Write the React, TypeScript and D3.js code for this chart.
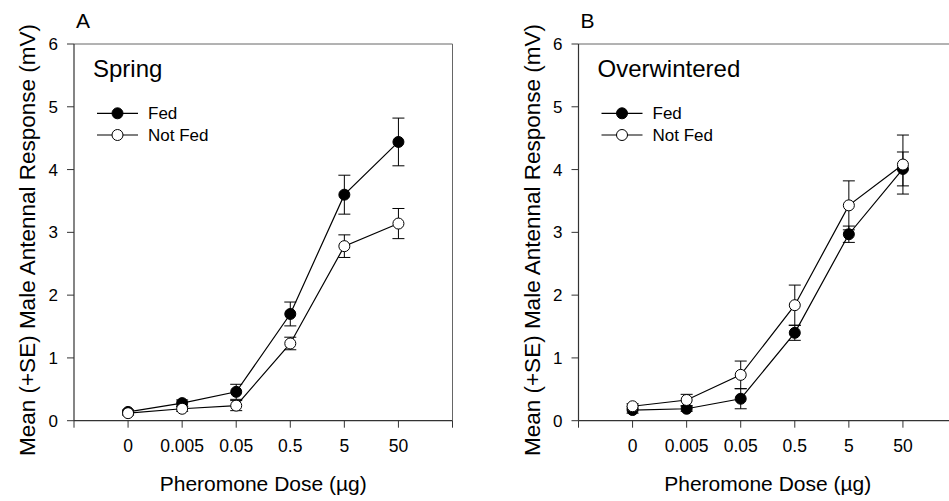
import React from "react";
import * as d3 from "d3";

const doses = ["0", "0.005", "0.05", "0.5", "5", "50"];
const yTicks = [0, 1, 2, 3, 4, 5, 6];

const springFed = [0.14, 0.28, 0.46, 1.7, 3.6, 4.44];
const springFedSE = [0.03, 0.05, 0.12, 0.19, 0.31, 0.38];
const springNotFed = [0.12, 0.19, 0.24, 1.23, 2.78, 3.14];
const springNotFedSE = [0.03, 0.04, 0.08, 0.1, 0.18, 0.24];

const winterFed = [0.17, 0.19, 0.35, 1.4, 2.97, 4.01];
const winterFedSE = [0.05, 0.04, 0.16, 0.12, 0.13, 0.27];
const winterNotFed = [0.23, 0.33, 0.73, 1.84, 3.43, 4.08];
const winterNotFedSE = [0.04, 0.09, 0.22, 0.32, 0.39, 0.47];

const font = "'Liberation Sans', Arial, sans-serif";

const panels = [
  {
    letter: "A",
    title: "Spring",
    left: 74,
    right: 452.5,
    fed: springFed,
    fedSE: springFedSE,
    notFed: springNotFed,
    notFedSE: springNotFedSE,
  },
  {
    letter: "B",
    title: "Overwintered",
    left: 578.5,
    right: 957,
    fed: winterFed,
    fedSE: winterFedSE,
    notFed: winterNotFed,
    notFedSE: winterNotFedSE,
  },
];

const top = 44;
const bottom = 420.7;

const Panel = ({ p }) => {
  const x = d3.scaleLinear().domain([-1, 6]).range([p.left, p.right]);
  const y = d3.scaleLinear().domain([0, 6]).range([bottom, top]);
  const line = d3
    .line<number>()
    .x((d, i) => x(i))
    .y((d) => y(d));
  const cx = (p.left + p.right) / 2;

  const series = [
    { vals: p.fed, se: p.fedSE, fill: "#000" },
    { vals: p.notFed, se: p.notFedSE, fill: "#fff" },
  ];

  return (
    <g fontFamily={font}>
      <text x={p.left + 2} y={28} fontSize={21}>
        {p.letter}
      </text>
      {/* frame */}
      <line x1={p.left} x2={p.right} y1={top} y2={top} stroke="#666" strokeWidth={1} />
      <line x1={p.right} x2={p.right} y1={top} y2={bottom} stroke="#666" strokeWidth={1} />
      {/* y axis */}
      <line x1={p.left} x2={p.left} y1={top} y2={bottom} stroke="#333" strokeWidth={1.2} />
      {yTicks.map((t) => (
        <g key={t}>
          <line x1={p.left - 7} x2={p.left} y1={y(t)} y2={y(t)} stroke="#333" />
          <text x={p.left - 16} y={y(t)} dy="0.36em" textAnchor="end" fontSize={17}>
            {t}
          </text>
        </g>
      ))}
      {/* x axis */}
      <line x1={p.left} x2={p.right} y1={bottom} y2={bottom} stroke="#333" strokeWidth={1.2} />
      {[-1, ...doses.map((d, i) => i), 6].map((t) => (
        <line key={t} x1={x(t)} x2={x(t)} y1={bottom} y2={bottom + 7} stroke="#333" />
      ))}
      {doses.map((d, i) => (
        <text key={d} x={x(i)} y={451.5} textAnchor="middle" fontSize={17.5}>
          {d}
        </text>
      ))}
      <text x={cx} y={491} textAnchor="middle" fontSize={21}>
        Pheromone Dose (µg)
      </text>
      <text
        transform={`translate(${p.left - 39},${240}) rotate(-90)`}
        textAnchor="middle"
        fontSize={22.5}
      >
        Mean (+SE) Male Antennal Response (mV)
      </text>
      <text x={p.left + 19} y={76.5} fontSize={24}>
        {p.title}
      </text>
      {/* legend */}
      {series.map((s, k) => {
        const ly = 113.3 + k * 21.7;
        return (
          <g key={k}>
            <line x1={p.left + 23} x2={p.left + 64} y1={ly} y2={ly} stroke="#000" strokeWidth={1.2} />
            <circle cx={p.left + 43.5} cy={ly} r={5.5} fill={s.fill} stroke="#000" strokeWidth={1} />
            <text x={p.left + 74} y={ly} dy="0.36em" fontSize={17}>
              {k === 0 ? "Fed" : "Not Fed"}
            </text>
          </g>
        );
      })}
      {/* data */}
      {series.map((s, k) => (
        <g key={k}>
          <path d={line(s.vals) || ""} fill="none" stroke="#000" strokeWidth={1.2} />
          {s.vals.map((v, i) => (
            <g key={i} stroke="#000" strokeWidth={1}>
              <line x1={x(i)} x2={x(i)} y1={y(v - s.se[i])} y2={y(v + s.se[i])} />
              <line x1={x(i) - 6} x2={x(i) + 6} y1={y(v + s.se[i])} y2={y(v + s.se[i])} />
              <line x1={x(i) - 6} x2={x(i) + 6} y1={y(v - s.se[i])} y2={y(v - s.se[i])} />
            </g>
          ))}
          {s.vals.map((v, i) => (
            <circle key={"c" + i} cx={x(i)} cy={y(v)} r={5.5} fill={s.fill} stroke="#000" strokeWidth={1} />
          ))}
        </g>
      ))}
    </g>
  );
};

export default function App() {
  return (
    <svg
      width={949}
      height={501}
      style={{ position: "absolute", left: 0, top: 0, background: "#fff" }}
    >
      <rect width={949} height={501} fill="#fff" />
      {panels.map((p) => (
        <Panel key={p.letter} p={p} />
      ))}
    </svg>
  );
}
